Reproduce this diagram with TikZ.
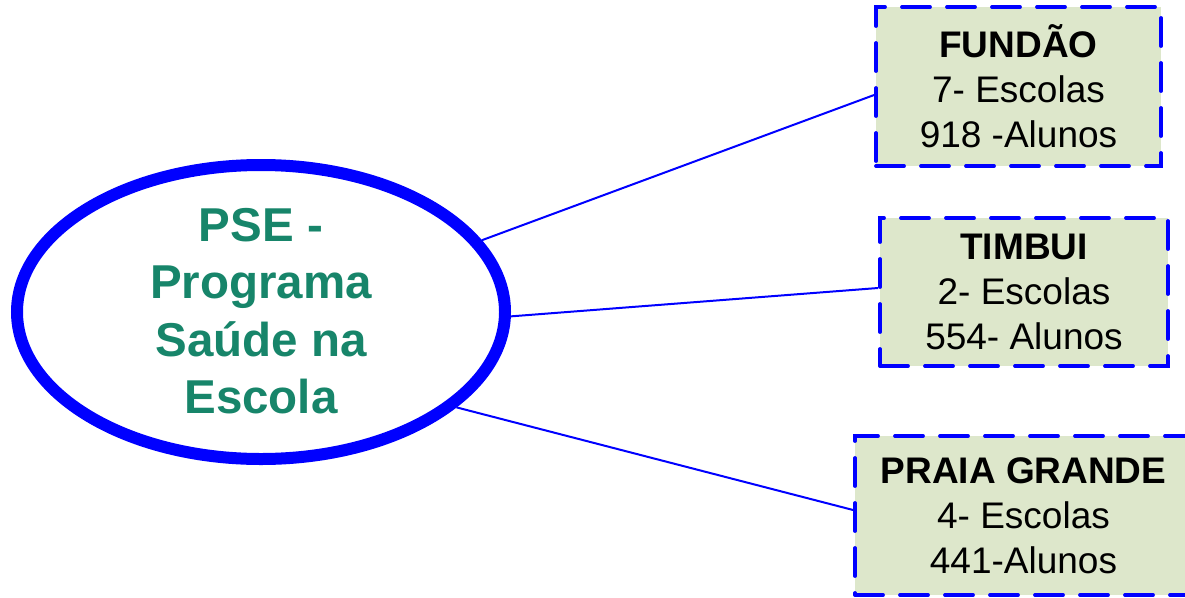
\documentclass[tikz,border=0pt]{standalone}
\usepackage{fontspec}
\setmainfont{Liberation Sans}
\usetikzlibrary{shapes.geometric}
\definecolor{psegreen}{HTML}{17856A}
\definecolor{boxfill}{HTML}{DDE7CB}
\definecolor{pureblue}{HTML}{0000FF}
\tikzset{
  psering/.style={ellipse, draw=pureblue, line width=12pt, fill=white, minimum width=488pt, minimum height=294pt, inner sep=0pt},
  pselabel/.style={align=center, text=psegreen, font=\fontsize{47.5}{57.3}\selectfont\bfseries, inner sep=0pt},
  schoolbox/.style={draw=pureblue, fill=boxfill, line width=3.8pt, line cap=round, dash pattern=on 28pt off 17pt, inner sep=0pt, align=center, font=\fontsize{37}{45}\selectfont},
  conn/.style={draw=pureblue, line width=2pt}
}
\begin{document}
\begin{tikzpicture}[x=1pt,y=-1pt]
\useasboundingbox (0,0) rectangle (1185,597);
\node[psering] (pse) at (261,312) {};
\node[pselabel] (psetext) at (261,311) {PSE -\\Programa\\Saúde na\\Escola};
\node[schoolbox, minimum width=285pt, minimum height=159pt] (b1) at (1018.5,86.5) {\textbf{FUNDÃO}\\7- Escolas\\918 -Alunos};
\node[schoolbox, minimum width=288pt, minimum height=148pt] (b2) at (1024,292) {\textbf{TIMBUI}\\2- Escolas\\554- Alunos};
\node[schoolbox, minimum width=337pt, minimum height=159pt] (b3) at (1023.5,515.5) {\textbf{PRAIA GRANDE}\\4- Escolas\\441-Alunos};
\draw[conn] (pse.18.5) -- ([yshift=-8.5pt]b1.west);
\draw[conn] (pse.-1.4) -- ([yshift=4pt]b2.west);
\draw[conn] (pse.-26) -- ([yshift=5.5pt]b3.west);
\end{tikzpicture}
\end{document}
